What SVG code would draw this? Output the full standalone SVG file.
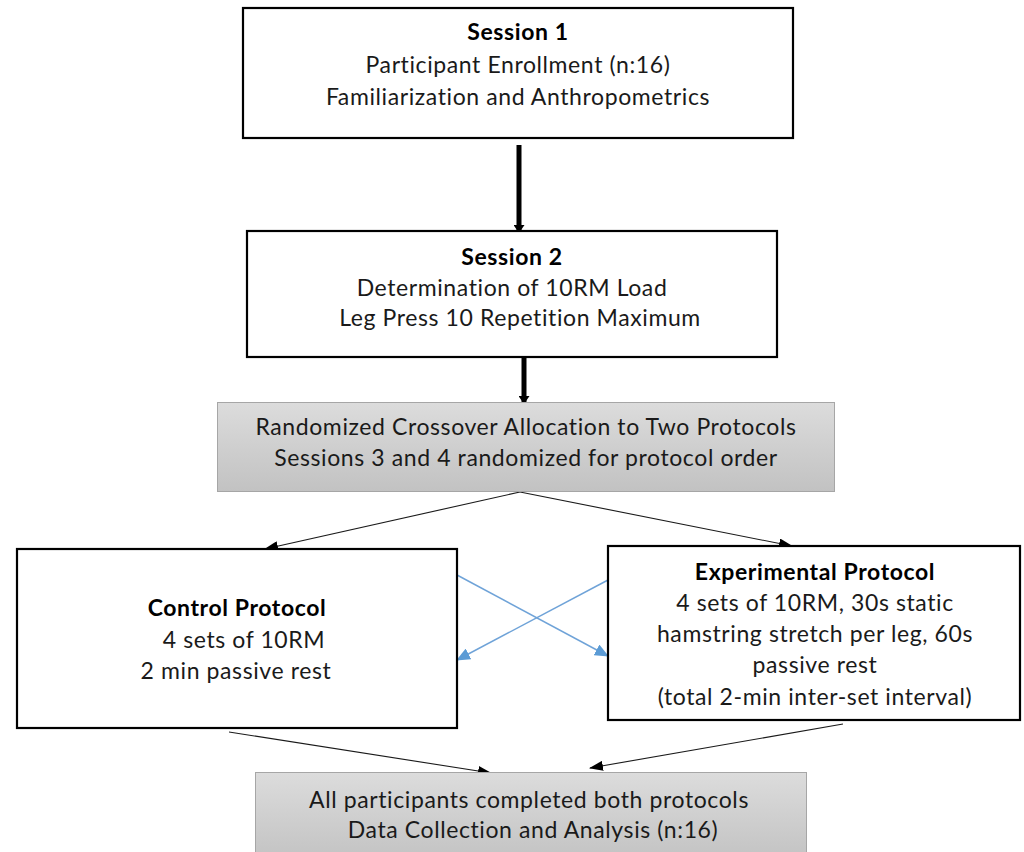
<svg xmlns="http://www.w3.org/2000/svg" width="1024" height="852" viewBox="0 0 1024 852">
<style>
.box{fill:#ffffff;stroke:#000000;stroke-width:2.2}
.gbox{fill:url(#g);stroke:#a6a6a6;stroke-width:1}
text{font-family:"Lato","Liberation Sans",sans-serif;font-size:23px;letter-spacing:0.6px;fill:#1a1a1a;text-anchor:middle}
.b{font-weight:bold;fill:#000}
.thick{stroke:#000;stroke-width:5;fill:none}
.thin{stroke:#1a1a1a;stroke-width:1.1;fill:none}
.blue{stroke:#6fa3d8;stroke-width:1.5;fill:none}
</style>
<defs>
<linearGradient id="g" x1="0" y1="0" x2="0" y2="1">
<stop offset="0" stop-color="#dcdcdc"/>
<stop offset="1" stop-color="#c2c2c2"/>
</linearGradient>
<marker id="ah" markerWidth="14" markerHeight="10" refX="13" refY="5" orient="auto" markerUnits="userSpaceOnUse">
<path d="M0,0 L14,5 L0,10 Z" fill="#000"/>
</marker>
<marker id="ahb" markerWidth="14" markerHeight="12" refX="13" refY="6" orient="auto" markerUnits="userSpaceOnUse">
<path d="M0,0 L14,6 L0,12 Z" fill="#5b9bd5"/>
</marker>
<marker id="aht" markerWidth="8" markerHeight="11" refX="7" refY="5.5" orient="auto" markerUnits="userSpaceOnUse">
<path d="M0,0 L8,5.5 L0,11 Z" fill="#000"/>
</marker>
</defs>

<g id="connectors">
<line class="thick" x1="519" y1="145" x2="519" y2="232" marker-end="url(#aht)"/>
<line class="thick" x1="524" y1="358" x2="524" y2="403" marker-end="url(#aht)"/>
<line class="thin" x1="520" y1="492" x2="265" y2="549" marker-end="url(#ah)"/>
<line class="thin" x1="520" y1="492" x2="792" y2="546" marker-end="url(#ah)"/>
<line class="blue" x1="457" y1="575" x2="608" y2="656" marker-end="url(#ahb)"/>
<line class="blue" x1="608" y1="580" x2="457" y2="660" marker-end="url(#ahb)"/>
<line class="thin" x1="229" y1="732" x2="491" y2="773" marker-end="url(#ah)"/>
<line class="thin" x1="843" y1="724" x2="590" y2="768" marker-end="url(#ah)"/>
</g>

<g id="session1">
<rect class="box" x="243" y="8" width="550" height="130"/>
<text class="b" x="518" y="40">Session 1</text>
<text x="518" y="73">Participant Enrollment (n:16)</text>
<text x="518" y="105">Familiarization and Anthropometrics</text>
</g>

<g id="session2">
<rect class="box" x="247" y="231" width="530" height="126"/>
<text class="b" x="512" y="265">Session 2</text>
<text x="512" y="296">Determination of 10RM Load</text>
<text x="520" y="326">Leg Press 10 Repetition Maximum</text>
</g>

<g id="randomization">
<rect class="gbox" x="217.5" y="402.5" width="617" height="89"/>
<text x="526" y="435">Randomized Crossover Allocation to Two Protocols</text>
<text x="526" y="466">Sessions 3 and 4 randomized for protocol order</text>
</g>

<g id="control">
<rect class="box" x="17" y="549" width="440" height="179"/>
<text class="b" x="237" y="616">Control Protocol</text>
<text x="244" y="648">4 sets of 10RM</text>
<text x="236" y="679">2 min passive rest</text>
</g>

<g id="experimental">
<rect class="box" x="608" y="546" width="412" height="174"/>
<text class="b" x="815" y="580">Experimental Protocol</text>
<text x="815" y="611">4 sets of 10RM, 30s static</text>
<text x="815" y="642">hamstring stretch per leg, 60s</text>
<text x="815" y="673">passive rest</text>
<text x="815" y="705">(total 2-min inter-set interval)</text>
</g>

<g id="analysis">
<rect class="gbox" x="255.5" y="772.5" width="551" height="90"/>
<text x="529" y="808">All participants completed both protocols</text>
<text x="533" y="838">Data Collection and Analysis (n:16)</text>
</g>
</svg>
